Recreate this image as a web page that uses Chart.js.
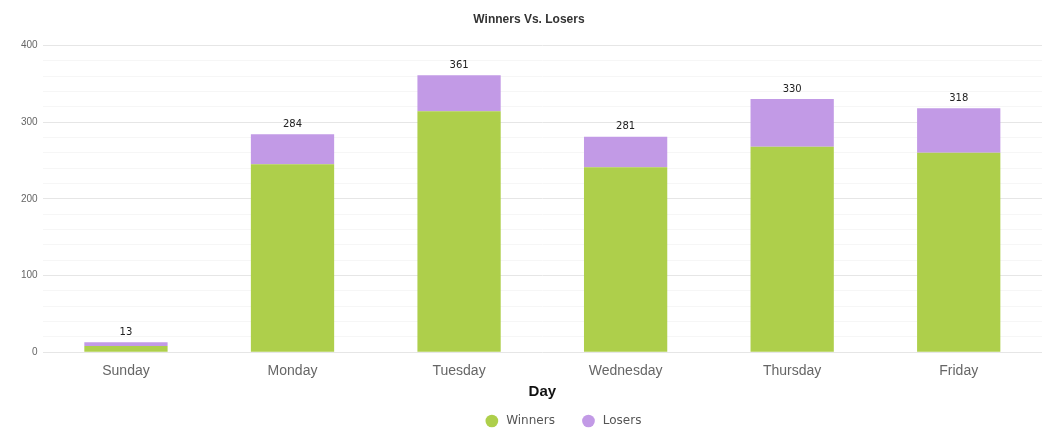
<!DOCTYPE html>
<html>
<head>
<meta charset="utf-8">
<script src="https://cdn.jsdelivr.net/npm/chart.js@4"></script>
<style>
  html, body { margin: 0; padding: 0; background: #fff; }
  #wrap { width: 1048px; height: 445px; }
</style>
</head>
<body>
<div id="wrap"><canvas id="chart"></canvas></div>
<script>
const days = ['Sunday', 'Monday', 'Tuesday', 'Wednesday', 'Thursday', 'Friday'];
const winners = [8, 245, 314, 241, 268, 260];
const losers = [5, 39, 47, 40, 62, 58];
const yTicks = [0, 100, 200, 300, 400];

// totals drawn on top of each stack
const totalsPlugin = {
  id: 'totals',
  afterDatasetsDraw(chart) {
    const ctx = chart.ctx;
    const yScale = chart.scales.y;
    const xScale = chart.scales.x;
    ctx.save();
    ctx.font = '10px "DejaVu Sans", Verdana, sans-serif';
    ctx.fillStyle = '#222';
    ctx.textAlign = 'center';
    ctx.textBaseline = 'bottom';
    days.forEach((d, i) => {
      const total = winners[i] + losers[i];
      const x = xScale.getPixelForValue(i);
      const y = yScale.getPixelForValue(total);
      ctx.fillText(String(total), x, y - 5);
    });
    ctx.restore();
  }
};

// legend items, with a blank spacer in front so the pair sits right of centre like the original
function legendItems(chart) {
  const items = Chart.defaults.plugins.legend.labels.generateLabels(chart);
  items[0].text = ' ' + items[0].text + '     ';
  items[1].text = ' ' + items[1].text;
  const spacer = {
    text: '            ',
    fillStyle: 'rgba(0,0,0,0)',
    strokeStyle: 'rgba(0,0,0,0)',
    lineWidth: 0,
    hidden: false,
    pointStyle: 'circle',
    datasetIndex: -1
  };
  return [spacer].concat(items);
}

new Chart(document.getElementById('chart'), {
  type: 'bar',
  data: {
    labels: days,
    datasets: [
      { label: 'Winners', data: winners, backgroundColor: '#aecf4b', borderWidth: 0, barPercentage: 0.5, categoryPercentage: 1 },
      { label: 'Losers', data: losers, backgroundColor: '#c29ae6', borderWidth: 0, barPercentage: 0.5, categoryPercentage: 1 }
    ]
  },
  options: {
    responsive: true,
    maintainAspectRatio: false,
    animation: false,
    layout: { padding: { left: 16, right: 6, top: 0, bottom: 8 } },
    plugins: {
      title: {
        display: true,
        text: 'Winners Vs. Losers',
        color: '#333',
        font: { family: 'Arial, "Liberation Sans", sans-serif', size: 12, weight: 'bold' },
        padding: { top: 12, bottom: 19 }
      },
      legend: {
        position: 'bottom',
        labels: {
          usePointStyle: true,
          pointStyle: 'circle',
          boxWidth: 9,
          boxHeight: 9,
          padding: 10,
          color: '#555',
          font: { family: '"DejaVu Sans", Verdana, sans-serif', size: 12 },
          generateLabels: legendItems
        }
      },
      tooltip: { enabled: false }
    },
    scales: {
      x: {
        stacked: true,
        grid: { display: false },
        border: { display: false },
        ticks: { color: '#666', font: { family: 'Arial, "Liberation Sans", sans-serif', size: 14 }, padding: 3 },
        title: {
          display: true,
          text: 'Day',
          color: '#111',
          font: { family: 'Arial, "Liberation Sans", sans-serif', size: 15, weight: 'bold' },
          padding: { top: 0, bottom: 4 }
        }
      },
      y: {
        stacked: true,
        min: 0,
        max: 400,
        border: { display: false },
        grid: {
          drawTicks: false,
          color: (c) => (yTicks.includes(c.tick.value) ? '#e6e6e6' : '#f6f6f6')
        },
        ticks: {
          stepSize: 20,
          autoSkip: false,
          padding: 5,
          color: '#666',
          font: { family: 'Arial, "Liberation Sans", sans-serif', size: 10 },
          callback: (v) => (yTicks.includes(v) ? v : '')
        }
      }
    }
  },
  plugins: [totalsPlugin]
});
</script>
</body>
</html>
